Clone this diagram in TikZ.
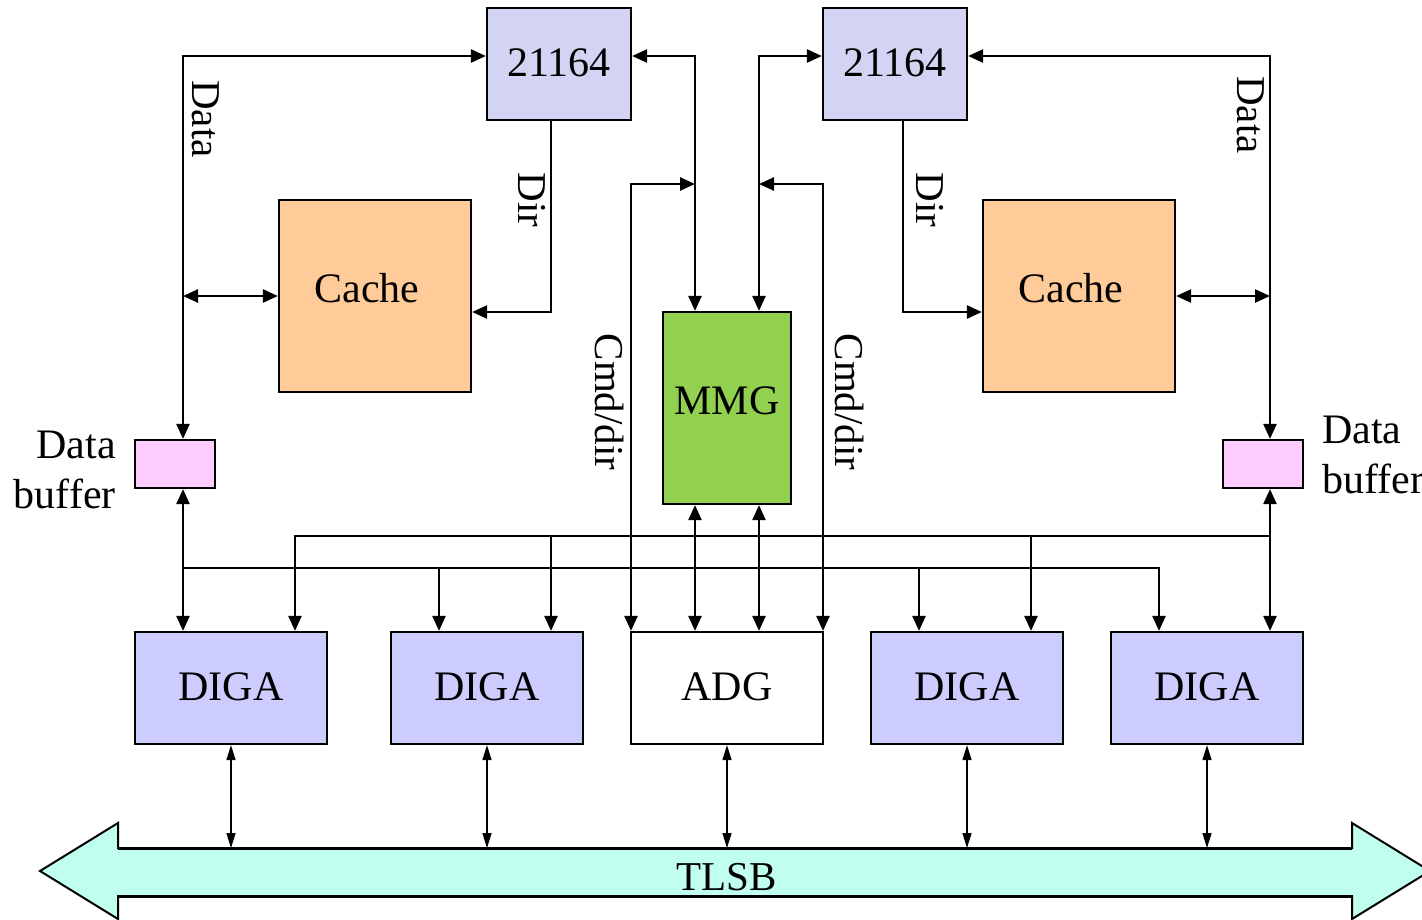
\documentclass[tikz,border=0pt]{standalone}
\usepackage{fontspec}
\setmainfont{Liberation Serif}
\usetikzlibrary{arrows.meta}
\definecolor{cpucol}{RGB}{211,211,243}
\definecolor{digacol}{RGB}{204,204,255}
\definecolor{cachecol}{RGB}{255,204,153}
\definecolor{mmgcol}{RGB}{146,208,80}
\definecolor{bufcol}{RGB}{255,204,255}
\definecolor{buscol}{RGB}{192,255,238}
\begin{document}
\begin{tikzpicture}[x=1pt,y=-1pt,
  box/.style={draw=black, line width=2.2pt, inner sep=0pt, font=\fontsize{42}{48}\selectfont},
  lbl/.style={inner sep=0pt, font=\fontsize{41}{48}\selectfont},
  wire/.style={line width=2.5pt},
  oneway/.style={wire, -{Triangle[length=15pt,width=13pt]}},
  twoway/.style={wire, {Triangle[length=15pt,width=13pt]}-{Triangle[length=15pt,width=13pt]}},
  thinway/.style={line width=1.4pt, {Triangle[length=15pt,width=9pt]}-{Triangle[length=15pt,width=9pt]}}]
\useasboundingbox (0,0) rectangle (1422,919);
\clip (0,0) rectangle (1422,919);

% TLSB bus
\path[draw=black, line width=2pt, fill=buscol]
  (40,871) -- (118,823) -- (118,848) -- (1352,848) -- (1352,823) -- (1430,871)
  -- (1352,919) -- (1352,896) -- (118,896) -- (118,919) -- cycle;
\draw[line width=3pt] (118,848) -- (1352,848);
\draw[line width=3pt] (118,896) -- (1352,896);
\node[lbl] (tlsb) at (727,877) {TLSB};
\coordinate (bus) at (0,848);

% boxes
\node[box, fill=cpucol, minimum width=144, minimum height=112] (p1) at (559,64) {\raisebox{2pt}{21164}};
\node[box, fill=cpucol, minimum width=144, minimum height=112] (p2) at (895,64) {\raisebox{2pt}{21164}};
\node[box, fill=cachecol, minimum width=192, minimum height=192] (c1) at (375,296) {\hspace*{-16pt}\raisebox{16pt}{Cache}};
\node[box, fill=cachecol, minimum width=192, minimum height=192] (c2) at (1079,296) {\hspace*{-16pt}\raisebox{16pt}{Cache}};
\node[box, fill=mmgcol, minimum width=128, minimum height=192] (mmg) at (727,408) {\raisebox{15pt}{MMG}};
\node[box, fill=bufcol, minimum width=80, minimum height=48] (b1) at (175,464) {};
\node[box, fill=bufcol, minimum width=80, minimum height=48] (b2) at (1263,464) {};
\node[box, fill=white, minimum width=192, minimum height=112] (adg) at (727,688) {\raisebox{2pt}{ADG}};
\node[box, fill=digacol, minimum width=192, minimum height=112] (d1) at (231,688) {\raisebox{2pt}{DIGA}};
\node[box, fill=digacol, minimum width=192, minimum height=112] (d2) at (487,688) {\raisebox{2pt}{DIGA}};
\node[box, fill=digacol, minimum width=192, minimum height=112] (d3) at (967,688) {\raisebox{2pt}{DIGA}};
\node[box, fill=digacol, minimum width=192, minimum height=112] (d4) at (1207,688) {\raisebox{2pt}{DIGA}};

% labels
\node[lbl, rotate=-90] (ldata) at (206,119) {Data};
\node[lbl, rotate=-90] (ldir) at (532,200) {Dir};
\node[lbl, rotate=-90] (lcmd) at (610,402) {Cmd/dir};
\node[lbl, rotate=-90] (rcmd) at (850,402) {Cmd/dir};
\node[lbl, rotate=-90] (rdir) at (930,200) {Dir};
\node[lbl, rotate=-90] (rdata) at (1251,115) {Data};
\node[lbl, align=right, anchor=east, font=\fontsize{42}{50}\selectfont] (lbuf) at (116,470) {Data\\buffer};
\node[lbl, align=left, anchor=west, font=\fontsize{42}{50}\selectfont] (rbuf) at (1322,455) {Data\\buffer};

% coordinates of wire corners
\coordinate (dl) at (183,56);
\coordinate (dr) at (1270,56);
\coordinate (m1) at (695,56);
\coordinate (m2) at (759,56);
\coordinate (k1) at (631,184);
\coordinate (k2) at (823,184);
\coordinate (dir1) at (551,312);
\coordinate (dir2) at (903,312);
\coordinate (u1) at (295,536);
\coordinate (u2) at (551,536);
\coordinate (u3) at (1031,536);
\coordinate (l1) at (439,568);
\coordinate (l2) at (919,568);
\coordinate (l3) at (1159,568);

% data lines
\draw[twoway] (dl |- b1.north) -- (dl) -- (p1.west |- dl);
\draw[twoway] (dr |- b2.north) -- (dr) -- (p2.east |- dr);
\draw[twoway] (dl |- c1.west) -- (c1.west);
\draw[twoway] (c2.east) -- (dr |- c2.east);
% dir lines
\draw[oneway] (dir1 |- p1.south) -- (dir1) -- (c1.east |- dir1);
\draw[oneway] (dir2 |- p2.south) -- (dir2) -- (c2.west |- dir2);
% CPU to MMG
\draw[twoway] (p1.east |- m1) -- (m1) -- (m1 |- mmg.north);
\draw[twoway] (p2.west |- m2) -- (m2) -- (m2 |- mmg.north);
% Cmd/dir
\draw[twoway] (k1 |- adg.north) -- (k1) -- (m1 |- k1);
\draw[twoway] (k2 |- adg.north) -- (k2) -- (m2 |- k2);
% MMG to ADG
\draw[twoway] (m1 |- mmg.south) -- (m1 |- adg.north);
\draw[twoway] (m2 |- mmg.south) -- (m2 |- adg.north);
% data buffers to DIGA
\draw[twoway] (dl |- b1.south) -- (dl |- d1.north);
\draw[twoway] (dr |- b2.south) -- (dr |- d4.north);
% upper bus
\draw[oneway] (dr |- u1) -- (u1) -- (u1 |- d1.north);
\draw[oneway] (u2) -- (u2 |- d2.north);
\draw[oneway] (u3) -- (u3 |- d3.north);
% lower bus
\draw[oneway] (dl |- l3) -- (l3) -- (l3 |- d4.north);
\draw[oneway] (l1) -- (l1 |- d2.north);
\draw[oneway] (l2) -- (l2 |- d3.north);
% to TLSB
\draw[thinway] (d1.south) -- (d1.south |- bus);
\draw[thinway] (d2.south) -- (d2.south |- bus);
\draw[thinway] (adg.south) -- (adg.south |- bus);
\draw[thinway] (d3.south) -- (d3.south |- bus);
\draw[thinway] (d4.south) -- (d4.south |- bus);
\end{tikzpicture}
\end{document}
